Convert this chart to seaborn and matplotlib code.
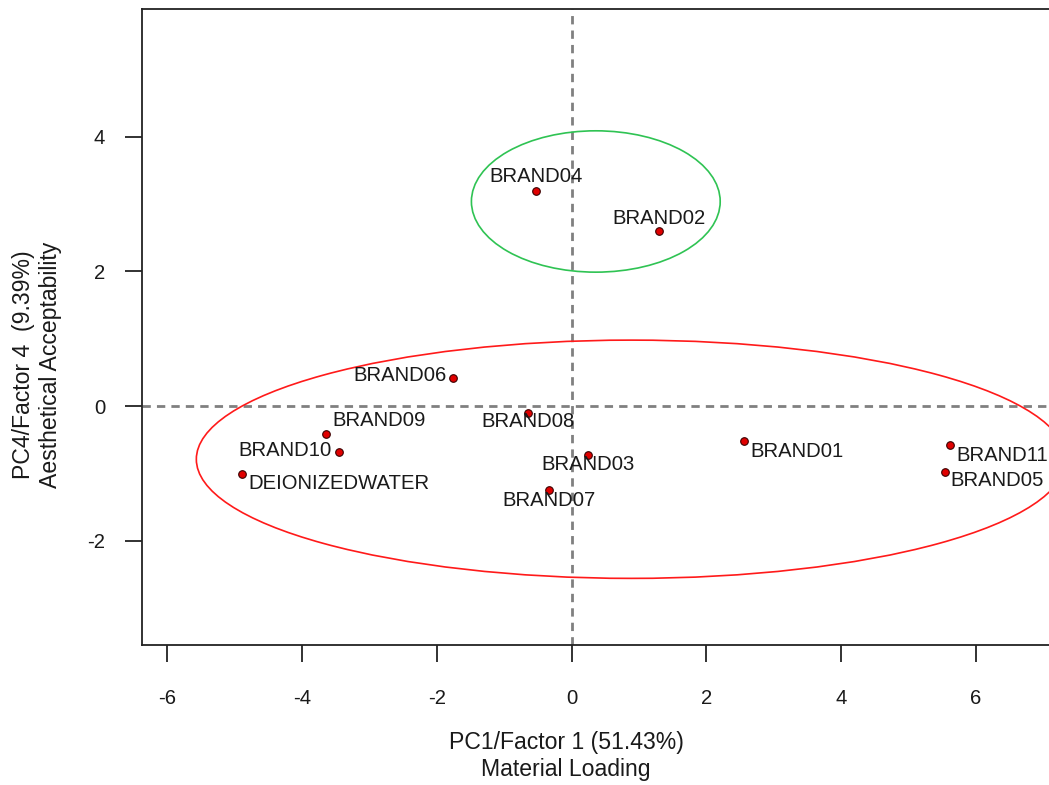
import matplotlib
matplotlib.use("Agg")
import matplotlib.pyplot as plt
from matplotlib.patches import Ellipse
import seaborn as sns
import pandas as pd

# PCA scores: factor 1 (material loading) vs factor 4 (aesthetical acceptability)
labels = ["BRAND01", "BRAND02", "BRAND03", "BRAND04", "BRAND05", "BRAND06",
          "BRAND07", "BRAND08", "BRAND09", "BRAND10", "BRAND11", "DEIONIZEDWATER"]
pc1 = [2.56, 1.30, 0.25, -0.52, 5.54, -1.76, -0.34, -0.645, -3.64, -3.45, 5.61, -4.89]
pc4 = [-0.52, 2.60, -0.72, 3.20, -0.98, 0.42, -1.25, -0.10, -0.41, -0.68, -0.58, -1.01]

# cluster outlines: centre (x, y), full width, full height
cluster_names = ["acceptable", "rest"]
cluster_centers = [(0.36, 3.04), (0.885, -0.79)]
cluster_widths = [3.69, 12.90]
cluster_heights = [2.10, 3.54]
cluster_colors = ["#2fc353", "#ff1a1a"]

x_ticks = [-6, -4, -2, 0, 2, 4, 6]
y_ticks = [-2, 0, 2, 4]

xlab = "PC1/Factor 1 (51.43%)\nMaterial Loading"
ylab = "PC4/Factor 4  (9.39%)\nAesthetical Acceptability"

df = pd.DataFrame({"label": labels, "pc1": pc1, "pc4": pc4})

sns.set_style("white")
plt.rcParams["font.family"] = ["Liberation Sans", "DejaVu Sans"]
plt.rcParams["axes.unicode_minus"] = False

W, H = 1049, 785
fig = plt.figure(figsize=(W / 100, H / 100), dpi=100)

# axes box in pixels: left edge 142, top 9, bottom 645; runs past the right edge
px_per_unit = 67.42
xmin, xmax = -6.371, 7.8
ymin, ymax = -3.55, 5.90
left_px, bottom_px, top_px = 142, 645, 9
ax = fig.add_axes([left_px / W, (H - bottom_px) / H,
                   (xmax - xmin) * px_per_unit / W, (bottom_px - top_px) / H])
ax.set_xlim(xmin, xmax)
ax.set_ylim(ymin, ymax)

# reference lines through the origin
ax.axhline(0, color="#808080", lw=2, ls=(0, (3, 2.2)), zorder=1)
ax.axvline(0, color="#808080", lw=2, ls=(0, (3, 2.2)), zorder=1)

for c, w, h, col in zip(cluster_centers, cluster_widths, cluster_heights, cluster_colors):
    ax.add_patch(Ellipse(c, w, h, fill=False, edgecolor=col, lw=1.2, zorder=2))

sns.scatterplot(data=df, x="pc1", y="pc4", ax=ax, s=30, color="#e00000",
                edgecolor="#3a0000", linewidth=0.8, zorder=4, legend=False)

# label placement: (dx, dy) in pixels, horizontal alignment
label_pos = {
    "BRAND01": (6, -10, "left"),
    "BRAND02": (0, 13, "center"),
    "BRAND03": (0, -9.5, "center"),
    "BRAND04": (0, 14, "center"),
    "BRAND05": (5, -8.5, "left"),
    "BRAND06": (-6, 2, "right"),
    "BRAND07": (0, -10, "center"),
    "BRAND08": (0, -9, "center"),
    "BRAND09": (6, 13, "left"),
    "BRAND10": (-7, 1.5, "right"),
    "BRAND11": (6.5, -10.5, "left"),
    "DEIONIZEDWATER": (6.5, -9.5, "left"),
}
for lab, x, y in zip(labels, pc1, pc4):
    dx, dy, ha = label_pos[lab]
    ax.annotate(lab, (x, y), xytext=(dx, dy), textcoords="offset pixels",
                ha=ha, va="center", fontsize=14.6, color="#1a1a1a", zorder=5)

ax.set_xticks(x_ticks)
ax.set_yticks(y_ticks)
ax.set_xticklabels([str(t) for t in x_ticks])
ax.set_yticklabels([str(t) for t in y_ticks])
ax.tick_params(axis="both", which="major", bottom=True, left=True,
               direction="out", length=12, width=1.3, color="#222222",
               labelsize=14.6, labelcolor="#1a1a1a")
ax.tick_params(axis="x", pad=20)
ax.tick_params(axis="y", pad=14.5)
ax.set_xlabel("")
ax.set_ylabel("")
for sp in ax.spines.values():
    sp.set_color("#222222")
    sp.set_linewidth(1.3)

fig.text(566 / W, (H - 756) / H, xlab, ha="center", va="center",
         fontsize=16.6, color="#1a1a1a", linespacing=1.25)
fig.text(37 / W, (H - 365) / H, ylab, ha="center", va="center", rotation=90,
         fontsize=16.6, color="#1a1a1a", linespacing=1.25)

fig.savefig("out.png", dpi=100, facecolor="white")
